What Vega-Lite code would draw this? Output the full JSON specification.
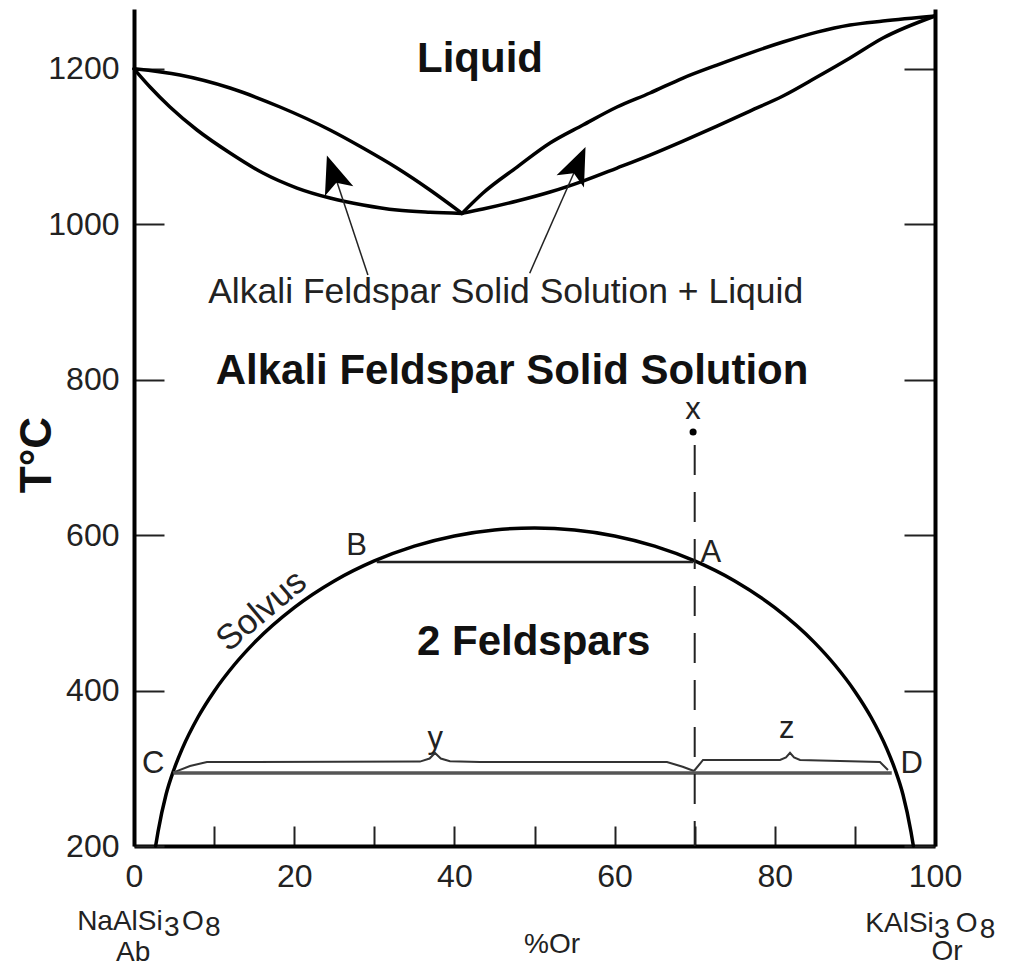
{
  "$schema": "https://vega.github.io/schema/vega-lite/v6.json",
  "width": 801,
  "height": 837,
  "autosize": {"type": "none"},
  "padding": {"left": 134, "top": 9, "right": 78, "bottom": 123},
  "background": "white",
  "config": {"view": {"stroke": null}, "font": "Liberation Sans"},
  "resolve": {"axis": {"y": "independent"}},
  "layer": [
    {
      "data": {"values": [
        {"curve": "liqL", "x": 0, "T": 1200}, {"curve": "liqL", "x": 5.74, "T": 1192}, {"curve": "liqL", "x": 11.99, "T": 1175.3}, {"curve": "liqL", "x": 18.23, "T": 1150.9}, {"curve": "liqL", "x": 24.47, "T": 1121.3}, {"curve": "liqL", "x": 28.59, "T": 1098.1}, {"curve": "liqL", "x": 32.83, "T": 1072.4}, {"curve": "liqL", "x": 36.95, "T": 1044.1}, {"curve": "liqL", "x": 40.95, "T": 1014},
        {"curve": "solL", "x": 0, "T": 1200}, {"curve": "solL", "x": 2.0, "T": 1176.6}, {"curve": "solL", "x": 4.49, "T": 1150.9}, {"curve": "solL", "x": 7.87, "T": 1121.3}, {"curve": "solL", "x": 11.99, "T": 1091.7}, {"curve": "solL", "x": 16.1, "T": 1065.9}, {"curve": "solL", "x": 20.35, "T": 1046.6}, {"curve": "solL", "x": 24.47, "T": 1033.8}, {"curve": "solL", "x": 28.59, "T": 1024.8}, {"curve": "solL", "x": 32.83, "T": 1018.3}, {"curve": "solL", "x": 36.95, "T": 1015.5}, {"curve": "solL", "x": 40.95, "T": 1014},
        {"curve": "liqR", "x": 40.95, "T": 1014}, {"curve": "liqR", "x": 43.57, "T": 1040.2}, {"curve": "liqR", "x": 47.82, "T": 1073.6}, {"curve": "liqR", "x": 51.94, "T": 1104.5}, {"curve": "liqR", "x": 56.05, "T": 1127.7}, {"curve": "liqR", "x": 60.3, "T": 1150.9}, {"curve": "liqR", "x": 64.42, "T": 1168.9}, {"curve": "liqR", "x": 68.54, "T": 1188.2}, {"curve": "liqR", "x": 72.78, "T": 1204.9}, {"curve": "liqR", "x": 76.9, "T": 1220.3}, {"curve": "liqR", "x": 81.02, "T": 1234.5}, {"curve": "liqR", "x": 85.27, "T": 1247.3}, {"curve": "liqR", "x": 89.39, "T": 1256.4}, {"curve": "liqR", "x": 93.5, "T": 1261.5}, {"curve": "liqR", "x": 100, "T": 1268},
        {"curve": "solR", "x": 40.95, "T": 1014}, {"curve": "solR", "x": 43.57, "T": 1019.6}, {"curve": "solR", "x": 47.82, "T": 1029.9}, {"curve": "solR", "x": 51.94, "T": 1041.5}, {"curve": "solR", "x": 56.05, "T": 1055.6}, {"curve": "solR", "x": 60.3, "T": 1072.4}, {"curve": "solR", "x": 64.42, "T": 1089.1}, {"curve": "solR", "x": 68.54, "T": 1107.1}, {"curve": "solR", "x": 72.78, "T": 1126.4}, {"curve": "solR", "x": 76.9, "T": 1145.7}, {"curve": "solR", "x": 81.02, "T": 1165.0}, {"curve": "solR", "x": 85.27, "T": 1189.4}, {"curve": "solR", "x": 89.39, "T": 1213.9}, {"curve": "solR", "x": 93.5, "T": 1239.6}, {"curve": "solR", "x": 100, "T": 1268},
        {"curve": "solvus", "x": 2.7, "T": 200}, {"curve": "solvus", "x": 3, "T": 218.4}, {"curve": "solvus", "x": 4, "T": 266.3}, {"curve": "solvus", "x": 5, "T": 298.8}, {"curve": "solvus", "x": 6, "T": 324.7}, {"curve": "solvus", "x": 8, "T": 366.0}, {"curve": "solvus", "x": 10, "T": 398.9}, {"curve": "solvus", "x": 12.5, "T": 432.9}, {"curve": "solvus", "x": 15, "T": 461.4}, {"curve": "solvus", "x": 20, "T": 506.7}, {"curve": "solvus", "x": 25, "T": 541.0}, {"curve": "solvus", "x": 30, "T": 566.8}, {"curve": "solvus", "x": 35, "T": 585.9}, {"curve": "solvus", "x": 40, "T": 599.0}, {"curve": "solvus", "x": 45, "T": 606.7}, {"curve": "solvus", "x": 50, "T": 609.2}, {"curve": "solvus", "x": 55, "T": 606.7}, {"curve": "solvus", "x": 60, "T": 599.0}, {"curve": "solvus", "x": 65, "T": 585.9}, {"curve": "solvus", "x": 70, "T": 566.8}, {"curve": "solvus", "x": 75, "T": 541.0}, {"curve": "solvus", "x": 80, "T": 506.7}, {"curve": "solvus", "x": 85, "T": 461.4}, {"curve": "solvus", "x": 87.5, "T": 432.9}, {"curve": "solvus", "x": 90, "T": 398.9}, {"curve": "solvus", "x": 92, "T": 366.0}, {"curve": "solvus", "x": 94, "T": 324.7}, {"curve": "solvus", "x": 95, "T": 298.8}, {"curve": "solvus", "x": 96, "T": 266.3}, {"curve": "solvus", "x": 97, "T": 218.4}, {"curve": "solvus", "x": 97.3, "T": 200}
      ]},
      "mark": {"type": "line", "interpolate": "monotone", "strokeWidth": 3.5, "color": "black", "strokeCap": "round", "strokeJoin": "round"},
      "encoding": {
        "x": {"field": "x", "type": "quantitative", "scale": {"domain": [0, 100], "nice": false, "zero": false},
          "axis": {"values": [0, 10, 20, 30, 40, 50, 60, 70, 80, 90, 100], "labelExpr": "datum.value % 20 === 0 ? datum.label : ''", "tickSize": -20, "tickWidth": 2, "tickColor": "#222", "domainWidth": 4, "domainColor": "black", "labelFontSize": 32, "labelFont": "Liberation Sans", "labelColor": "#222", "labelPadding": 35, "labelFlush": false, "labelOverlap": false, "labelBound": false, "grid": false, "title": null}},
        "y": {"field": "T", "type": "quantitative", "scale": {"domain": [200, 1277], "nice": false, "zero": false},
          "axis": {"values": [200, 400, 600, 800, 1000, 1200], "format": "d", "tickSize": -30, "tickWidth": 2, "tickColor": "#222", "domainWidth": 4, "domainColor": "black", "labelFontSize": 32, "labelFont": "Liberation Sans", "labelColor": "#222", "labelPadding": 45, "labelOverlap": false, "labelBound": false, "grid": false, "title": null}},
        "detail": {"field": "curve"},
        "order": {"field": "x", "type": "quantitative"}
      }
    },
    {
      "data": {"values": [
        {"brace": "y", "x": 4.87, "T": 294.5}, {"brace": "y", "x": 6.99, "T": 303}, {"brace": "y", "x": 9.11, "T": 308.1}, {"brace": "y", "x": 35.7, "T": 308.6}, {"brace": "y", "x": 36.9, "T": 312.5}, {"brace": "y", "x": 37.58, "T": 319.7}, {"brace": "y", "x": 38.3, "T": 312.5}, {"brace": "y", "x": 39.45, "T": 309}, {"brace": "y", "x": 43.2, "T": 308.1}, {"brace": "y", "x": 66.54, "T": 308.1}, {"brace": "y", "x": 68.5, "T": 302}, {"brace": "y", "x": 69.91, "T": 296.5},
        {"brace": "z", "x": 69.91, "T": 296.5}, {"brace": "z", "x": 71.04, "T": 310.7}, {"brace": "z", "x": 80.65, "T": 310.7}, {"brace": "z", "x": 81.4, "T": 314}, {"brace": "z", "x": 81.9, "T": 320}, {"brace": "z", "x": 82.4, "T": 314}, {"brace": "z", "x": 83.15, "T": 310.7}, {"brace": "z", "x": 93.13, "T": 308.1}, {"brace": "z", "x": 94.13, "T": 297.8}
      ]},
      "mark": {"type": "line", "strokeWidth": 2, "color": "#333"},
      "encoding": {
        "x": {"field": "x", "type": "quantitative", "scale": {"domain": [0, 100], "nice": false, "zero": false}},
        "y": {"field": "T", "type": "quantitative", "scale": {"domain": [200, 1277], "nice": false, "zero": false},
          "axis": {"orient": "right", "values": [200, 400, 600, 800, 1000, 1200], "tickSize": -31, "tickWidth": 2, "tickColor": "#222", "domainWidth": 4, "domainColor": "black", "labels": false, "grid": false, "title": null}},
        "detail": {"field": "brace"},
        "order": {"field": "x", "type": "quantitative"}
      }
    },
    {
      "data": {"values": [{"x": 30.3, "x2": 69.8, "T": 565.4}]},
      "mark": {"type": "rule", "strokeWidth": 2.5, "color": "#222"},
      "encoding": {
        "x": {"field": "x", "type": "quantitative"}, "x2": {"field": "x2"},
        "y": {"field": "T", "type": "quantitative", "axis": null}
      }
    },
    {
      "data": {"values": [{"x": 4.9, "x2": 94.6, "T": 293.9}]},
      "mark": {"type": "rule", "strokeWidth": 3.5, "color": "#555"},
      "encoding": {
        "x": {"field": "x", "type": "quantitative"}, "x2": {"field": "x2"},
        "y": {"field": "T", "type": "quantitative", "axis": null}
      }
    },
    {
      "data": {"values": [{"x": 70, "T": 716, "T2": 200}]},
      "mark": {"type": "rule", "strokeWidth": 2, "color": "#222", "strokeDash": [30, 17]},
      "encoding": {
        "x": {"field": "x", "type": "quantitative"},
        "y": {"field": "T", "type": "quantitative", "axis": null}, "y2": {"field": "T2"}
      }
    },
    {
      "data": {"values": [{"x": 69.8, "T": 732.7}]},
      "mark": {"type": "point", "filled": true, "size": 50, "color": "black", "opacity": 1},
      "encoding": {
        "x": {"field": "x", "type": "quantitative"},
        "y": {"field": "T", "type": "quantitative", "axis": null}
      }
    },
    {
      "data": {"values": [{"x": 29.2, "T": 934.7, "x2": 25.0, "T2": 1065}, {"x": 49.4, "T": 937, "x2": 55.3, "T2": 1075}]},
      "mark": {"type": "rule", "strokeWidth": 1.5, "color": "#222"},
      "encoding": {
        "x": {"field": "x", "type": "quantitative"}, "x2": {"field": "x2"},
        "y": {"field": "T", "type": "quantitative", "axis": null}, "y2": {"field": "T2"}
      }
    },
    {
      "data": {"values": [{"x": 25.1, "T": 1058}]},
      "mark": {"type": "point", "shape": "M0,-1L0.6,0.5L0,0.15L-0.6,0.5Z", "size": 2500, "angle": -19, "filled": true, "color": "black", "opacity": 1},
      "encoding": {
        "x": {"field": "x", "type": "quantitative"},
        "y": {"field": "T", "type": "quantitative", "axis": null}
      }
    },
    {
      "data": {"values": [{"x": 55.1, "T": 1070}]},
      "mark": {"type": "point", "shape": "M0,-1L0.6,0.5L0,0.15L-0.6,0.5Z", "size": 2500, "angle": 24, "filled": true, "color": "black", "opacity": 1},
      "encoding": {
        "x": {"field": "x", "type": "quantitative"},
        "y": {"field": "T", "type": "quantitative", "axis": null}
      }
    },
    {
      "data": {"values": [
        {"label": "Liquid", "x": 43.2, "T": 1195.9},
        {"label": "Alkali Feldspar Solid Solution", "x": 47.2, "T": 794.5},
        {"label": "2 Feldspars", "x": 49.9, "T": 445.8}
      ]},
      "mark": {"type": "text", "font": "Liberation Sans", "fontSize": 42, "fontWeight": "bold", "align": "center", "baseline": "alphabetic", "color": "#111"},
      "encoding": {
        "x": {"field": "x", "type": "quantitative"},
        "y": {"field": "T", "type": "quantitative", "axis": null},
        "text": {"field": "label"}
      }
    },
    {
      "data": {"values": [{"label": "Alkali Feldspar Solid Solution + Liquid", "x": 46.4, "T": 898.7}]},
      "mark": {"type": "text", "font": "Liberation Sans", "fontSize": 35.5, "align": "center", "baseline": "alphabetic", "color": "#222"},
      "encoding": {
        "x": {"field": "x", "type": "quantitative"},
        "y": {"field": "T", "type": "quantitative", "axis": null},
        "text": {"field": "label"}
      }
    },
    {
      "data": {"values": [
        {"label": "B", "x": 27.8, "T": 574.4},
        {"label": "A", "x": 72.0, "T": 565.4},
        {"label": "x", "x": 69.8, "T": 750},
        {"label": "C", "x": 2.4, "T": 293.9},
        {"label": "D", "x": 97.1, "T": 293.9},
        {"label": "y", "x": 37.6, "T": 326.1},
        {"label": "z", "x": 81.5, "T": 339}
      ]},
      "mark": {"type": "text", "font": "Liberation Sans", "fontSize": 31, "align": "center", "baseline": "alphabetic", "color": "#222"},
      "encoding": {
        "x": {"field": "x", "type": "quantitative"},
        "y": {"field": "T", "type": "quantitative", "axis": null},
        "text": {"field": "label"}
      }
    },
    {
      "data": {"values": [{"label": "Solvus", "x": 15.9, "T": 503}]},
      "mark": {"type": "text", "font": "Liberation Sans", "fontSize": 35, "angle": -40, "align": "center", "baseline": "middle", "color": "#222"},
      "encoding": {
        "x": {"field": "x", "type": "quantitative"},
        "y": {"field": "T", "type": "quantitative", "axis": null},
        "text": {"field": "label"}
      }
    },
    {
      "data": {"values": [
        {"label": "NaAlSi", "x": -7.1, "T": 91.9},
        {"label": "O", "x": 6.0, "T": 91.9},
        {"label": "KAlSi", "x": 91.3, "T": 89.3},
        {"label": "O", "x": 102.6, "T": 89.3}
      ]},
      "mark": {"type": "text", "font": "Liberation Sans", "fontSize": 28, "align": "left", "baseline": "alphabetic", "color": "#222"},
      "encoding": {
        "x": {"field": "x", "type": "quantitative"},
        "y": {"field": "T", "type": "quantitative", "axis": null},
        "text": {"field": "label"}
      }
    },
    {
      "data": {"values": [
        {"label": "3", "x": 3.75, "T": 91.9},
        {"label": "8", "x": 8.86, "T": 91.9},
        {"label": "3", "x": 99.9, "T": 89.3},
        {"label": "8", "x": 105.6, "T": 89.3}
      ]},
      "mark": {"type": "text", "font": "Liberation Sans", "fontSize": 28, "align": "left", "baseline": "alphabetic", "dy": 6, "color": "#222"},
      "encoding": {
        "x": {"field": "x", "type": "quantitative"},
        "y": {"field": "T", "type": "quantitative", "axis": null},
        "text": {"field": "label"}
      }
    },
    {
      "data": {"values": [
        {"label": "Ab", "x": -0.1, "T": 52},
        {"label": "Or", "x": 101.5, "T": 53},
        {"label": "%Or", "x": 52.2, "T": 62.3}
      ]},
      "mark": {"type": "text", "font": "Liberation Sans", "fontSize": 28, "align": "center", "baseline": "alphabetic", "color": "#222"},
      "encoding": {
        "x": {"field": "x", "type": "quantitative"},
        "y": {"field": "T", "type": "quantitative", "axis": null},
        "text": {"field": "label"}
      }
    },
    {
      "data": {"values": [{"label": "T°C", "x": -12, "T": 703}]},
      "mark": {"type": "text", "font": "Liberation Sans", "fontSize": 44, "fontWeight": "bold", "angle": -90, "align": "center", "baseline": "middle", "color": "#111"},
      "encoding": {
        "x": {"field": "x", "type": "quantitative"},
        "y": {"field": "T", "type": "quantitative", "axis": null},
        "text": {"field": "label"}
      }
    }
  ]
}
